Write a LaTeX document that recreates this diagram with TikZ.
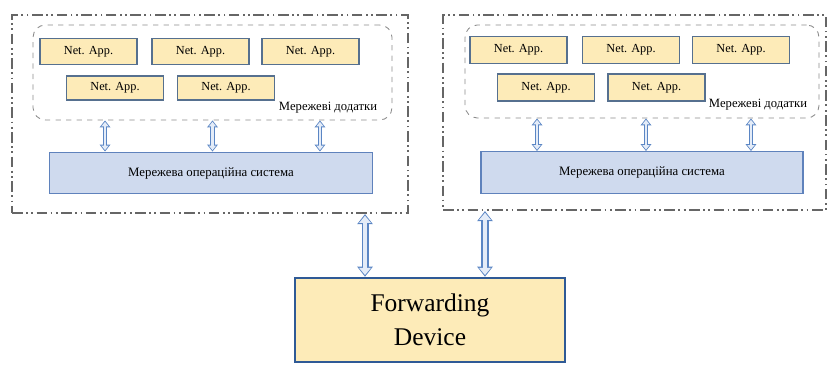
\documentclass[tikz,border=0pt]{standalone}
\usepackage{fontspec}
\setmainfont{Liberation Serif}
\usetikzlibrary{arrows.meta}

\definecolor{appfill}{HTML}{FDEBB8}
\definecolor{appline}{HTML}{56708F}
\definecolor{osfill}{HTML}{CFDAEE}
\definecolor{osline}{HTML}{5F82BC}
\definecolor{fdline}{HTML}{2F5A96}
\definecolor{arrline}{HTML}{5B86C4}
\definecolor{arrfill}{HTML}{E4ECF8}

\tikzset{
  ctlframe/.style={draw=black!60, line width=1.2pt,
    dash pattern=on 6pt off 2pt on 1pt off 2pt on 1pt off 2pt},
  appgroup/.style={draw=black!45, dashed, rounded corners=7pt, line width=0.5pt},
  netapp/.style={draw=appline, fill=appfill, line width=0.8pt,
    minimum width=1.94cm, minimum height=0.53cm, inner sep=0pt,
    font=\rmfamily\fontsize{7}{8}\selectfont},
  nos/.style={draw=osline, fill=osfill, line width=0.8pt,
    minimum width=6.46cm, minimum height=0.83cm, inner sep=0pt,
    font=\rmfamily\fontsize{7.3}{8}\selectfont},
  grplabel/.style={font=\rmfamily\fontsize{7.2}{8}\selectfont},
  % two-pass hollow double arrows
  linkbg/.style={draw=arrline, line width=2.6pt,
    {Triangle[length=4pt,width=6pt]}-{Triangle[length=4pt,width=6pt]}},
  linkfg/.style={draw=arrfill, line width=1.3pt,
    {Triangle[length=2.6pt,width=4pt]}-{Triangle[length=2.6pt,width=4pt]},
    shorten >=0.8pt, shorten <=0.8pt},
  bigbg/.style={draw=arrline, line width=4pt,
    {Triangle[length=5.8pt,width=8.6pt]}-{Triangle[length=5.8pt,width=8.6pt]}},
  bigfg/.style={draw=arrfill, line width=2.6pt,
    {Triangle[length=4pt,width=6.4pt]}-{Triangle[length=4pt,width=6.4pt]},
    shorten >=1pt, shorten <=1pt},
}

\begin{document}
\begin{tikzpicture}[x=0.02cm, y=-0.02cm]
  \useasboundingbox (0,0) rectangle (829,365);

  % controller 1
  \node[ctlframe, minimum width=7.92cm, minimum height=3.96cm] (ctlA) at (210,114) {};
  \node[appgroup, minimum width=7.18cm, minimum height=1.9cm] (grpA) at (212.5,72.5) {};
  \node[netapp] (appA1) at (88.5,51.5) {Net. App.};
  \node[netapp] (appA2) at (200.5,51.5) {Net. App.};
  \node[netapp] (appA3) at (310.5,51.5) {Net. App.};
  \node[netapp, minimum height=0.48cm] (appA4) at (115,88) {Net. App.};
  \node[netapp, minimum height=0.48cm] (appA5) at (226,88) {Net. App.};
  \node[grplabel] (lblA) at (328,108) {Мережеві додатки};
  \node[nos] (osA) at (211,173) {Мережева операційна система};

  % controller 2
  \node[ctlframe, minimum width=7.66cm, minimum height=3.9cm] (ctlB) at (634.5,112.5) {};
  \node[appgroup, minimum width=7.08cm, minimum height=1.86cm] (grpB) at (642,71.5) {};
  \node[netapp] (appB1) at (518.5,50) {Net. App.};
  \node[netapp] (appB2) at (631,50) {Net. App.};
  \node[netapp] (appB3) at (741,50) {Net. App.};
  \node[netapp, minimum height=0.54cm] (appB4) at (546,87.5) {Net. App.};
  \node[netapp, minimum height=0.54cm] (appB5) at (656.5,87.5) {Net. App.};
  \node[grplabel] (lblB) at (758,105) {Мережеві додатки};
  \node[nos, minimum width=6.44cm] (osB) at (642,172.5) {Мережева операційна система};

  % forwarding device
  \node[draw=fdline, fill=appfill, line width=1.4pt, minimum width=5.4cm,
    minimum height=1.68cm, align=center, font=\rmfamily\fontsize{14.5}{19.5}\selectfont]
    (fd) at (430,320) {Forwarding\\Device};

  \foreach \dx in {-2.15cm,0cm,2.15cm}{
    \draw[linkbg] ([xshift=\dx]grpA.south) -- ([xshift=\dx]grpA.south |- osA.north);
    \draw[linkfg] ([xshift=\dx]grpA.south) -- ([xshift=\dx]grpA.south |- osA.north);
  }
  \foreach \dx in {-2.1cm,0.08cm,2.18cm}{
    \draw[linkbg] ([xshift=\dx]grpB.south) -- ([xshift=\dx]grpB.south |- osB.north);
    \draw[linkfg] ([xshift=\dx]grpB.south) -- ([xshift=\dx]grpB.south |- osB.north);
  }
  \foreach \dx/\ctl in {-1.3cm/ctlA,1.1cm/ctlB}{
    \draw[bigbg] ([xshift=\dx]fd.north |- \ctl.south) -- ([xshift=\dx]fd.north);
    \draw[bigfg] ([xshift=\dx]fd.north |- \ctl.south) -- ([xshift=\dx]fd.north);
  }
\end{tikzpicture}
\end{document}
